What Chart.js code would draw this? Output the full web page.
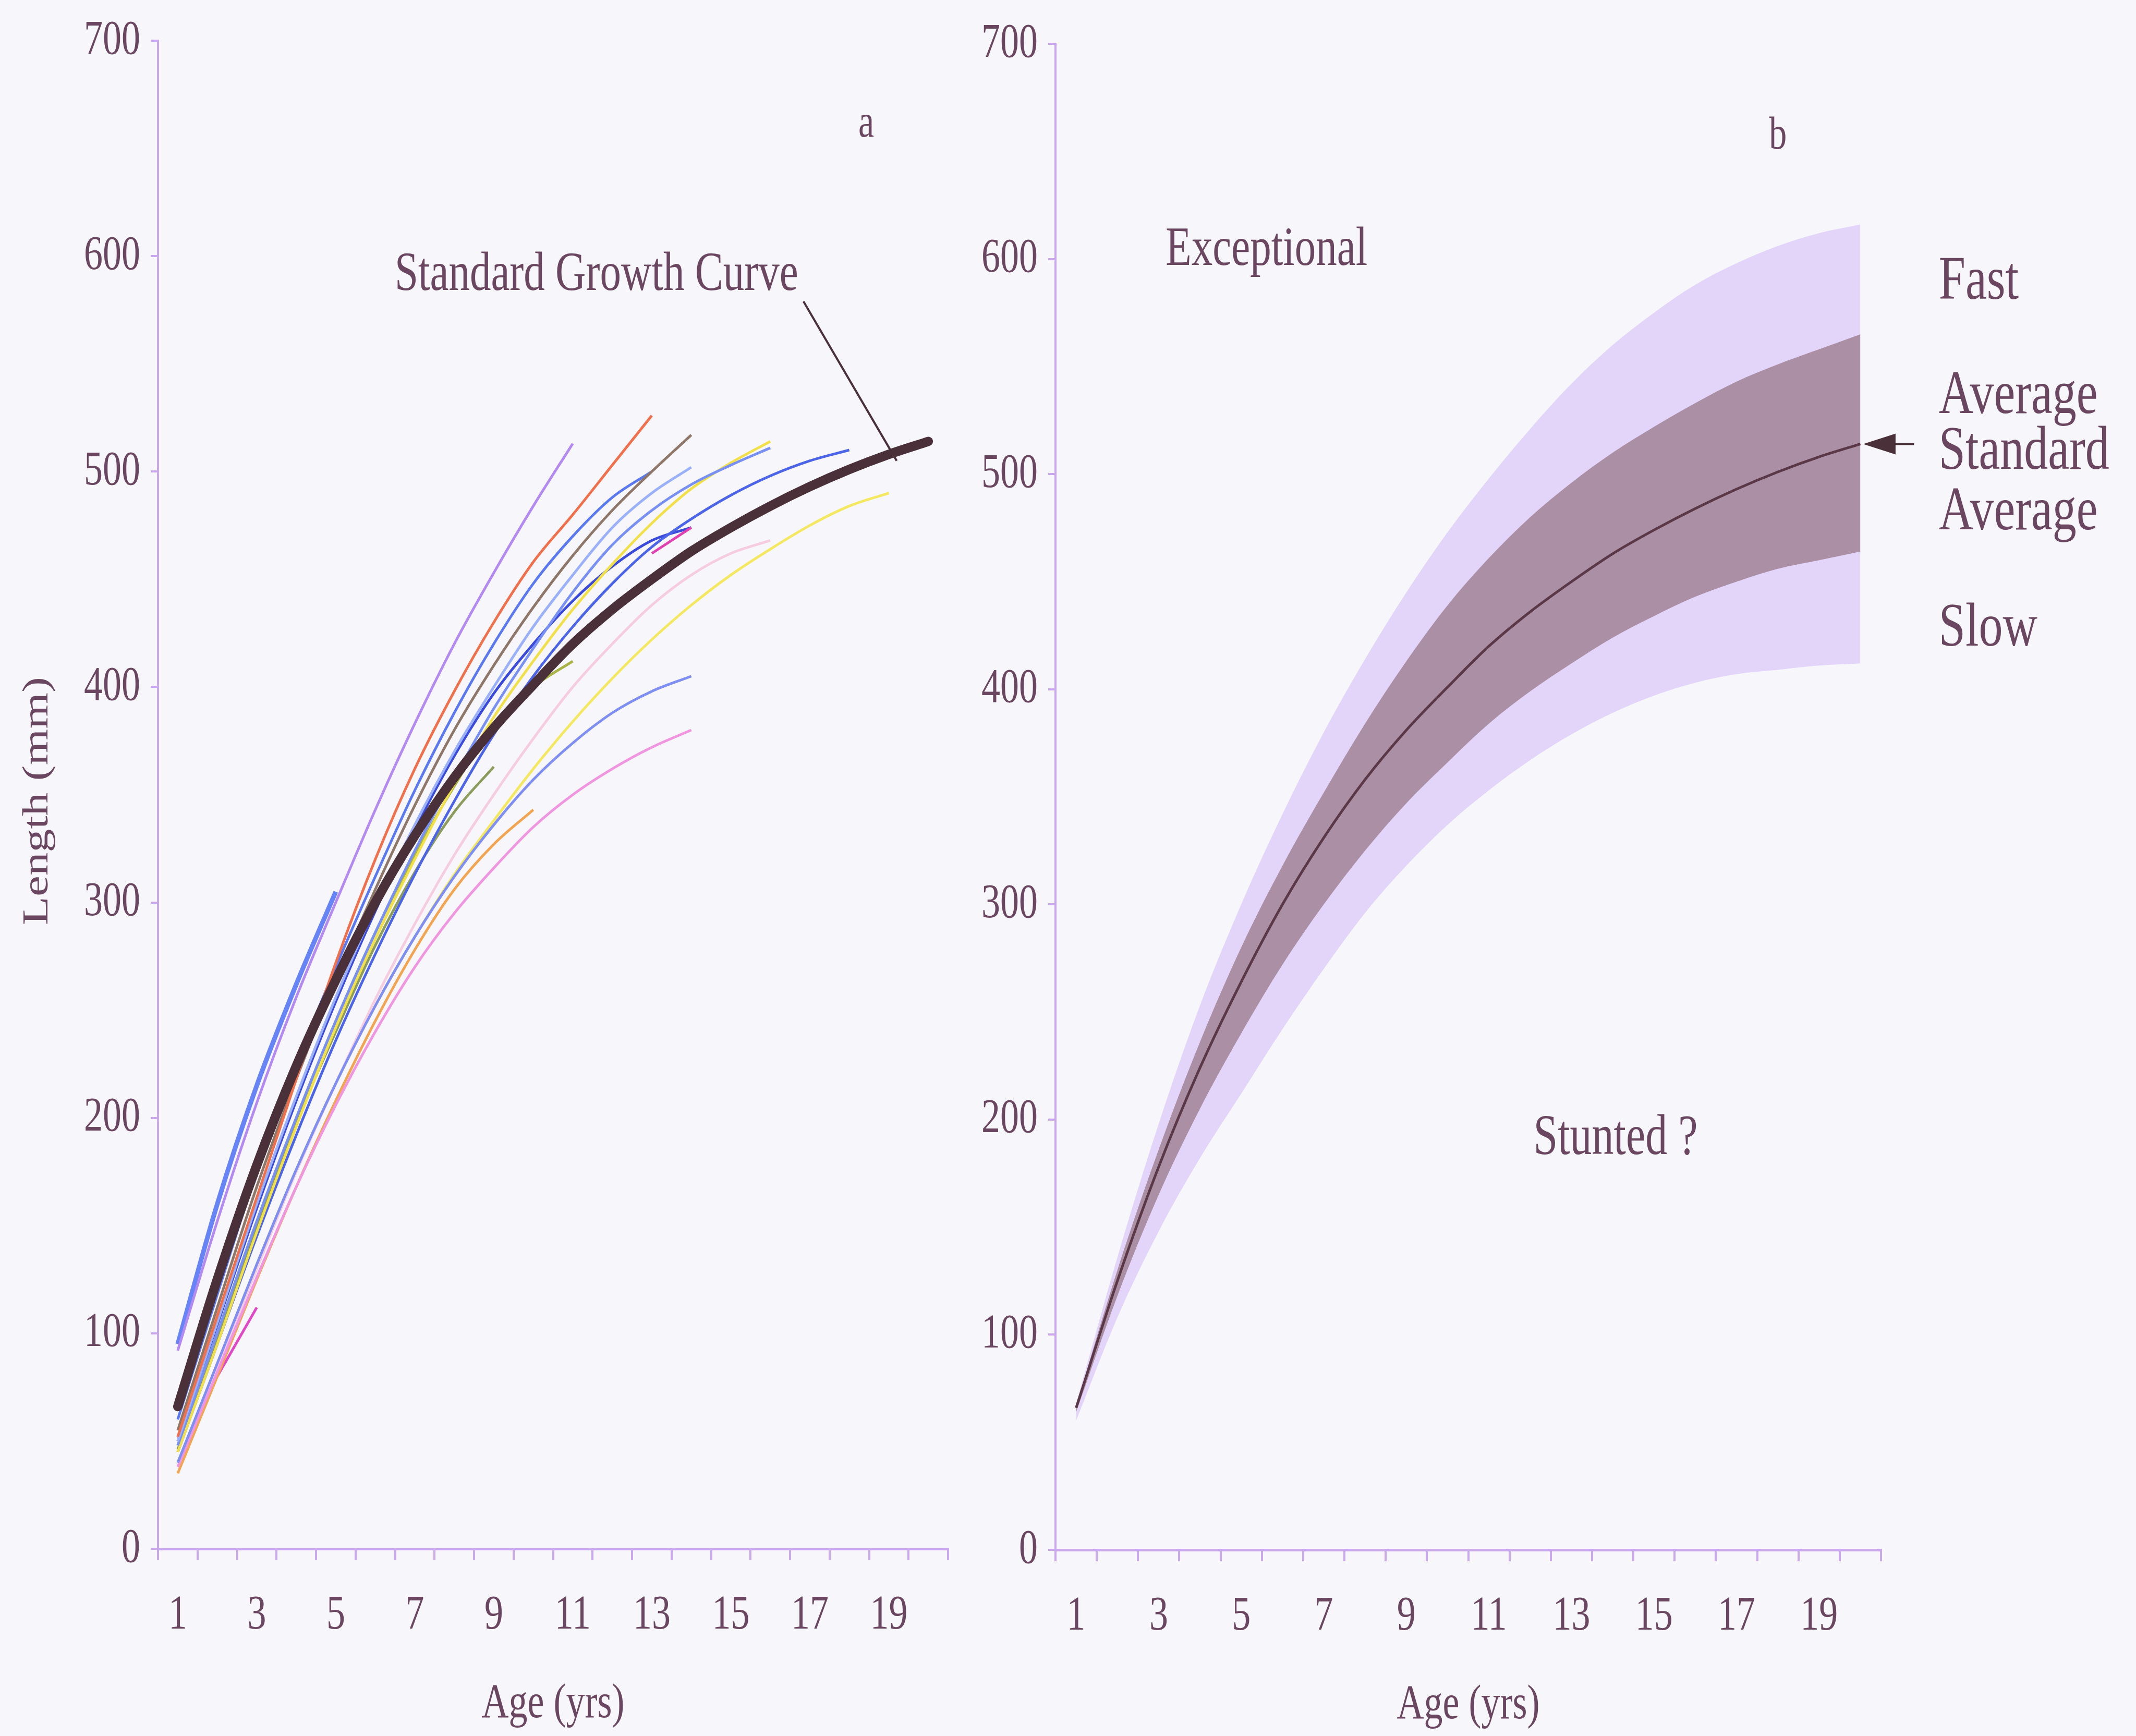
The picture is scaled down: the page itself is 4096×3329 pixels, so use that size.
<!DOCTYPE html>
<html lang="en">
<head>
<meta charset="UTF-8">
<title>Growth curves</title>
<style>
  html, body { margin: 0; padding: 0; background: #f7f7fb; }
  .panel { position: absolute; left: 0; top: 0; width: 4096px; height: 3329px; }
</style>
</head>
<body>
<div class="panel"><canvas id="chartA" width="4096" height="3329"></canvas></div>
<div class="panel"><canvas id="chartB" width="4096" height="3329"></canvas></div>

<script src="https://cdn.jsdelivr.net/npm/chart.js"></script>
<script>
// ages 1..20, one category per year
const ages = [1, 2, 3, 4, 5, 6, 7, 8, 9, 10, 11, 12, 13, 14, 15, 16, 17, 18, 19, 20];
const xTickLabels = [1, 3, 5, 7, 9, 11, 13, 15, 17, 19];
const yTickLabels = [0, 100, 200, 300, 400, 500, 600, 700];

// standard growth curve (length mm at each age)
const standardCurve = [66, 125, 178, 224, 264, 300, 331, 358, 381, 401, 420, 436, 450, 463, 474, 484, 493, 501, 508, 514];

// individual fish, panel a (start at age 1, null = no reading)
const fishA = [92, 152, 207, 256, 300, 343, 383, 420, 453, 484, 513];
const fishB = [52, 108, 163, 218, 272, 320, 362, 398, 430, 458, 480, 503, 526];
const fishC = [55, 112, 168, 218, 264, 306, 345, 380, 410, 437, 461, 482, 500, 517];
const fishD = [60, 118, 175, 225, 270, 312, 352, 388, 420, 448, 470, 488, 500];
const fishE = [50, 105, 160, 210, 256, 298, 336, 370, 400, 428, 452, 474, 490, 502];
const fishF = [48, 100, 152, 200, 245, 286, 324, 358, 390, 418, 444, 466, 482, 494, 503, 511];
const fishG = [45, 95, 147, 196, 242, 283, 320, 355, 386, 412, 436, 457, 476, 492, 504, 514];
const fishH = [45, 95, 145, 192, 236, 276, 313, 347, 378, 405, 428, 448, 465, 478, 489, 498, 505, 510];
const fishI = [95, 160, 215, 262, 305];
const fishJ = [40, 86, 132, 176, 216, 252, 284, 312, 336, 357, 374, 388, 398, 405];
const fishK = [38, 82, 126, 168, 206, 240, 270, 295, 316, 335, 350, 362, 372, 380];
const fishL = [38, 84, 130, 175, 216, 255, 290, 322, 350, 376, 400, 420, 438, 452, 462, 468];
const fishM = [40, 86, 132, 176, 216, 252, 284, 313, 338, 362, 384, 404, 422, 438, 452, 464, 475, 484, 490];
const fishN = [35, 80, 125, 168, 208, 245, 278, 306, 327, 343];
const fishO = [48, 100, 152, 200, 245, 286, 322, 354, 382, 400, 412];
const fishP = [46, 98, 150, 198, 240, 280, 314, 342, 363];
const fishQ = [null, 80, 112];
const fishR = [null, null, null, null, null, null, null, null, null, null, null, null, 462, 474];
const fishS = [50, 104, 158, 208, 254, 296, 334, 368, 397, 420, 440, 456, 468, 474];

// bands, panel b
const bandFast = [68, 136, 198, 253, 300, 342, 380, 414, 445, 473, 498, 521, 542, 560, 575, 588, 598, 606, 612, 616];
const bandAvgHigh = [67, 130, 186, 236, 280, 318, 352, 384, 413, 439, 461, 480, 496, 510, 522, 533, 543, 551, 558, 565];
const bandAvgLow = [64, 118, 165, 205, 240, 272, 300, 325, 347, 366, 384, 399, 412, 424, 434, 443, 450, 456, 460, 464];
const bandSlow = [60, 108, 148, 182, 212, 242, 270, 296, 318, 337, 353, 367, 379, 389, 397, 403, 407, 409, 411, 412];

const fishSeries = [fishA, fishB, fishC, fishD, fishE, fishF, fishG, fishH, fishI, fishJ,
                    fishK, fishL, fishM, fishN, fishO, fishP, fishQ, fishR, fishS];
const fishColors = ['#b48af2', '#f0704c', '#8e7668', '#5a78f0', '#9ab0fa', '#7890f4', '#f2e04a',
                    '#4c64e8', '#6684f6', '#7e8ef2', '#f096e0', '#f6cde0', '#f4e860', '#f2a450',
                    '#a8b444', '#8c9c5c', '#e048c8', '#e040b0', '#3a4ada'];

const AXIS = '#c9a8ee';
const INK = '#6b4660';
const CURVE = '#4a3038';
const SERIF = '"Liberation Serif", "Times New Roman", serif';
const SY = 1.3;   // the figure is stretched vertically

const points = vals => vals.map((v, i) => ({ x: ages[i], y: v }));

function tallText(ctx, text, x, y, size, align, rotate) {
  ctx.save();
  ctx.translate(x, y);
  ctx.scale(1, SY);
  if (rotate) ctx.rotate(rotate);
  ctx.font = size + 'px ' + SERIF;
  ctx.fillStyle = INK;
  ctx.textAlign = align || 'center';
  ctx.textBaseline = 'middle';
  ctx.fillText(text, 0, 0);
  ctx.restore();
}

function axisText(id, notes) {
  return {
    id: id,
    afterDraw(chart) {
      const { ctx, chartArea: area } = chart;
      const x = chart.scales.x, y = chart.scales.y;
      yTickLabels.forEach(v => tallText(ctx, String(v), area.left - 34, y.getPixelForValue(v), 72, 'right'));
      xTickLabels.forEach(a => tallText(ctx, String(a), x.getPixelForValue(a), area.bottom + 128, 72));
      tallText(ctx, 'Age (yrs)', (area.left + area.right) / 2, area.bottom + 298, 72);
      notes(ctx, x, y, area);
    }
  };
}

function options(pad) {
  return {
    responsive: false,
    animation: false,
    layout: { padding: pad },
    elements: { point: { radius: 0 }, line: { cubicInterpolationMode: 'monotone' } },
    plugins: { legend: { display: false }, tooltip: { enabled: false } },
    scales: {
      x: {
        type: 'linear', min: 0.5, max: 20.5,
        afterBuildTicks: s => { s.ticks = ages.map(a => ({ value: a - 0.5 })).concat([{ value: 20.5 }]); },
        ticks: { display: false },
        grid: { drawOnChartArea: false, drawTicks: true, tickLength: 22, color: AXIS, lineWidth: 4 },
        border: { color: AXIS, width: 5 }
      },
      y: {
        min: 0, max: 700,
        ticks: { display: false, stepSize: 100 },
        grid: { drawOnChartArea: false, drawTicks: true, tickLength: 14, color: AXIS, lineWidth: 4 },
        border: { color: AXIS, width: 4 }
      }
    }
  };
}

// panel a
const leftSets = [{ data: points(standardCurve), borderColor: CURVE, borderWidth: 18, borderCapStyle: 'round' }]
  .concat(fishSeries.map((s, i) => ({
    data: points(s), borderColor: fishColors[i], borderWidth: i === 8 ? 9 : 5, spanGaps: false
  })));

new Chart(document.getElementById('chartA'), {
  type: 'line',
  data: { datasets: leftSets },
  options: options({ left: 289, right: 2278, top: 78, bottom: 337 }),
  plugins: [axisText('textA', (ctx, x, y, area) => {
    tallText(ctx, 'Length (mm)', area.left - 230, (area.top + area.bottom) / 2 + 12, 69, 'center', -Math.PI / 2);
    tallText(ctx, 'a', x.getPixelForValue(18.43), y.getPixelForValue(661), 68);
    tallText(ctx, 'Standard Growth Curve', x.getPixelForValue(11.6), y.getPixelForValue(591), 81);
    ctx.save();
    ctx.strokeStyle = CURVE;
    ctx.lineWidth = 4;
    ctx.beginPath();
    ctx.moveTo(x.getPixelForValue(16.84), y.getPixelForValue(579));
    ctx.lineTo(x.getPixelForValue(19.2), y.getPixelForValue(505));
    ctx.stroke();
    ctx.restore();
  })]
});

// panel b
new Chart(document.getElementById('chartB'), {
  type: 'line',
  data: {
    datasets: [
      { data: points(standardCurve), borderColor: '#5a3848', borderWidth: 5 },
      { data: points(bandAvgHigh), borderWidth: 0, borderColor: 'rgba(0,0,0,0)', backgroundColor: '#ab8fa4', fill: '+1' },
      { data: points(bandAvgLow), borderWidth: 0, borderColor: 'rgba(0,0,0,0)', fill: false },
      { data: points(bandFast), borderWidth: 0, borderColor: 'rgba(0,0,0,0)', backgroundColor: '#e3d5fa', fill: '+1' },
      { data: points(bandSlow), borderWidth: 0, borderColor: 'rgba(0,0,0,0)', fill: false }
    ]
  },
  options: options({ left: 2010, right: 489, top: 84, bottom: 335 }),
  plugins: [axisText('textB', (ctx, x, y) => {
    tallText(ctx, 'b', x.getPixelForValue(18.0), y.getPixelForValue(657), 68);
    tallText(ctx, 'Exceptional', x.getPixelForValue(3.17), y.getPixelForValue(604), 81, 'left');
    tallText(ctx, 'Stunted ?', x.getPixelForValue(12.08), y.getPixelForValue(191), 84, 'left');
    const lx = x.getPixelForValue(21.9);
    tallText(ctx, 'Fast', lx, y.getPixelForValue(589), 92, 'left');
    tallText(ctx, 'Average', lx, y.getPixelForValue(536), 92, 'left');
    tallText(ctx, 'Standard', lx, y.getPixelForValue(510), 92, 'left');
    tallText(ctx, 'Average', lx, y.getPixelForValue(482), 92, 'left');
    tallText(ctx, 'Slow', lx, y.getPixelForValue(428), 92, 'left');
    // arrow to the end of the standard curve
    const tipX = x.getPixelForValue(20.07), tailX = x.getPixelForValue(21.3), ay = y.getPixelForValue(514);
    ctx.save();
    ctx.strokeStyle = CURVE;
    ctx.fillStyle = CURVE;
    ctx.lineWidth = 4;
    ctx.beginPath();
    ctx.moveTo(tailX, ay);
    ctx.lineTo(tipX + 40, ay);
    ctx.stroke();
    ctx.beginPath();
    ctx.moveTo(tipX, ay);
    ctx.lineTo(tipX + 62, ay - 20);
    ctx.lineTo(tipX + 62, ay + 20);
    ctx.closePath();
    ctx.fill();
    ctx.restore();
  })]
});
</script>
</body>
</html>
